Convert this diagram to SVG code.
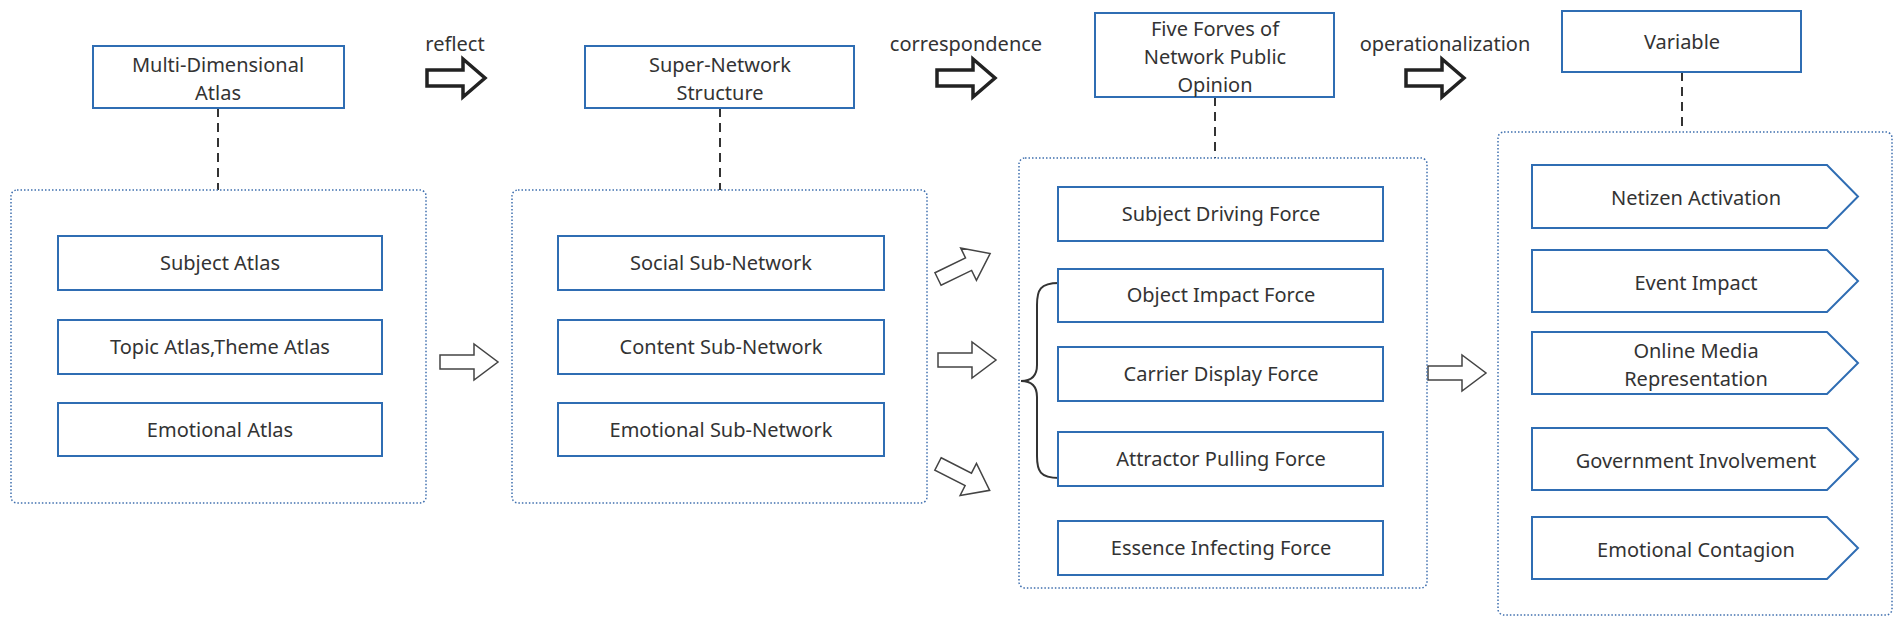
<svg xmlns="http://www.w3.org/2000/svg" xmlns:xlink="http://www.w3.org/1999/xlink" width="1902" height="623" viewBox="0 0 1902 623">
<style>
text{font-family:"Noto Sans","Open Sans","Liberation Sans",sans-serif;font-size:20px;fill:#333;text-anchor:middle}
.lbl{text-anchor:start}
.box{fill:#fff;stroke:#2f6db3;stroke-width:2}
.cont{fill:none;stroke:#3f6fae;stroke-width:1.5;stroke-dasharray:1.5 2}
.dash{stroke:#333;stroke-width:2;stroke-dasharray:9 6;fill:none}
.harr{fill:#fff;stroke:#444;stroke-width:1.5}
.darr{fill:#fff;stroke:#222;stroke-width:3.5}
</style>
<defs>
<path id="ha" d="M0,-7 H34 V-18 L58,0 L34,18 V7 H0 Z"/>
<path id="da" d="M0,-8 H36 V-19 L58,0 L36,19 V8 H0 Z"/>
</defs>
<g id="connectors">
<line class="dash" x1="218" y1="108" x2="218" y2="190"/>
<line class="dash" x1="720" y1="108" x2="720" y2="190"/>
<line class="dash" x1="1215" y1="97" x2="1215" y2="158"/>
<line class="dash" x1="1682" y1="72" x2="1682" y2="132"/>
<use href="#da" class="darr" transform="translate(427,78)"/>
<use href="#da" class="darr" transform="translate(937,78)"/>
<use href="#da" class="darr" transform="translate(1406,78)"/>
<use href="#ha" class="harr" transform="translate(440,362)"/>
<use href="#ha" class="harr" transform="translate(938,279) rotate(-26)"/>
<use href="#ha" class="harr" transform="translate(938,360)"/>
<use href="#ha" class="harr" transform="translate(938,464) rotate(27)"/>
<use href="#ha" class="harr" transform="translate(1428,373)"/>
<path d="M1059,283 C1040,283 1037,290 1037,305 V365 C1037,376 1032,381 1021,381 C1032,381 1037,386 1037,397 V456 C1037,471 1040,478 1059,478" fill="none" stroke="#333" stroke-width="2"/>
</g>
<g id="labels">
<text x="455" y="51">reflect</text>
<text x="966" y="51">correspondence</text>
<text x="1445" y="51">operationalization</text>
</g>
<g id="containers">
<rect class="cont" x="11" y="190" width="415" height="313" rx="6"/>
<rect class="cont" x="512" y="190" width="415" height="313" rx="6"/>
<rect class="cont" x="1019" y="158" width="408" height="430" rx="6"/>
<rect class="cont" x="1498" y="132" width="394" height="483" rx="6"/>
</g>
<g id="n-md"><rect class="box" x="93" y="46" width="251" height="62"/><text x="218" y="72">Multi-Dimensional</text><text x="218" y="100">Atlas</text></g>
<g id="n-sn"><rect class="box" x="585" y="46" width="269" height="62"/><text x="720" y="72">Super-Network</text><text x="720" y="100">Structure</text></g>
<g id="n-ff"><rect class="box" x="1095" y="13" width="239" height="84"/><text x="1215" y="36">Five Forves of</text><text x="1215" y="64">Network Public</text><text x="1215" y="92">Opinion</text></g>
<g id="n-var"><rect class="box" x="1562" y="11" width="239" height="61"/><text x="1682" y="49">Variable</text></g>
<g id="n-sa"><rect class="box" x="58" y="236" width="324" height="54"/><text x="220" y="270">Subject Atlas</text></g>
<g id="n-ta"><rect class="box" x="58" y="320" width="324" height="54"/><text x="220" y="354">Topic Atlas,Theme Atlas</text></g>
<g id="n-ea"><rect class="box" x="58" y="403" width="324" height="53"/><text x="220" y="437">Emotional Atlas</text></g>
<g id="n-ssn"><rect class="box" x="558" y="236" width="326" height="54"/><text x="721" y="270">Social Sub-Network</text></g>
<g id="n-csn"><rect class="box" x="558" y="320" width="326" height="54"/><text x="721" y="354">Content Sub-Network</text></g>
<g id="n-esn"><rect class="box" x="558" y="403" width="326" height="53"/><text x="721" y="437">Emotional Sub-Network</text></g>
<g id="n-f1"><rect class="box" x="1058" y="187" width="325" height="54"/><text x="1221" y="221">Subject Driving Force</text></g>
<g id="n-f2"><rect class="box" x="1058" y="269" width="325" height="53"/><text x="1221" y="302">Object Impact Force</text></g>
<g id="n-f3"><rect class="box" x="1058" y="347" width="325" height="54"/><text x="1221" y="381">Carrier Display Force</text></g>
<g id="n-f4"><rect class="box" x="1058" y="432" width="325" height="54"/><text x="1221" y="466">Attractor Pulling Force</text></g>
<g id="n-f5"><rect class="box" x="1058" y="521" width="325" height="54"/><text x="1221" y="555">Essence Infecting Force</text></g>
<g id="n-v1"><path class="box" d="M1532,165 H1827 L1858,196.5 L1827,228 H1532 Z"/><text x="1696" y="205">Netizen Activation</text></g>
<g id="n-v2"><path class="box" d="M1532,250 H1827 L1858,281 L1827,312 H1532 Z"/><text x="1696" y="290">Event Impact</text></g>
<g id="n-v3"><path class="box" d="M1532,332 H1827 L1858,363 L1827,394 H1532 Z"/><text x="1696" y="358">Online Media</text><text x="1696" y="386">Representation</text></g>
<g id="n-v4"><path class="box" d="M1532,428 H1827 L1858,459 L1827,490 H1532 Z"/><text x="1696" y="468">Government Involvement</text></g>
<g id="n-v5"><path class="box" d="M1532,517 H1827 L1858,548 L1827,579 H1532 Z"/><text x="1696" y="557">Emotional Contagion</text></g>
</svg>
